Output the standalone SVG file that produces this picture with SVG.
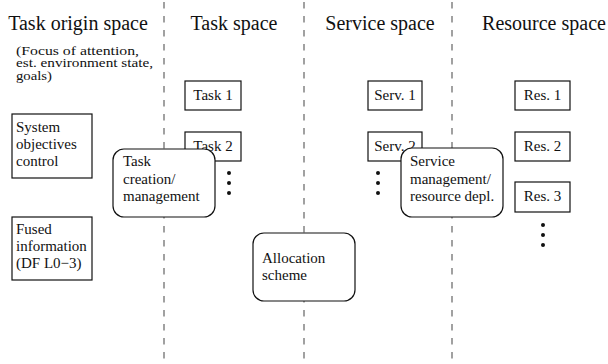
<svg xmlns="http://www.w3.org/2000/svg" width="608" height="364" viewBox="0 0 608 364" font-family="'Liberation Serif', 'Times New Roman', Times, serif">
  <style>
    text { font-family: 'Liberation Serif', 'Times New Roman', Times, serif; fill: #111; }
    .hdr { font-size: 20px; text-anchor: middle; }
    .sub { font-size: 12px; }
    .lbl { font-size: 15px; }
    .mid { text-anchor: middle; }
    .box { fill: #fff; stroke: #111; stroke-width: 1.2; }
    .sep { stroke: #555; stroke-width: 1.1; stroke-dasharray: 6.5 7.5; fill: none; }
    .dot { fill: #111; }
  </style>
  <rect width="608" height="364" fill="#fff"/>
  <g id="separators">
    <line class="sep" x1="164" y1="2" x2="164" y2="364"/>
    <line class="sep" x1="304" y1="2" x2="304" y2="364"/>
    <line class="sep" x1="452" y1="2" x2="452" y2="364"/>
  </g>
  <g id="headers">
    <text class="hdr" x="78" y="30">Task origin space</text>
    <text class="hdr" x="234" y="30">Task space</text>
    <text class="hdr" x="380" y="30">Service space</text>
    <text class="hdr" x="544" y="30">Resource space</text>
  </g>
  <g id="origin-note">
    <text class="sub" x="16" y="54.5" textLength="123" lengthAdjust="spacingAndGlyphs">(Focus of attention,</text>
    <text class="sub" x="16" y="67" textLength="137" lengthAdjust="spacingAndGlyphs">est. environment state,</text>
    <text class="sub" x="16" y="79.5" textLength="36" lengthAdjust="spacingAndGlyphs">goals)</text>
  </g>
  <g id="system-objectives">
    <rect class="box" x="12" y="114" width="80" height="64"/>
    <text class="lbl" x="16" y="132">System</text>
    <text class="lbl" x="16" y="149">objectives</text>
    <text class="lbl" x="16" y="166">control</text>
  </g>
  <g id="fused-information">
    <rect class="box" x="12" y="217" width="80" height="63"/>
    <text class="lbl" x="16" y="234">Fused</text>
    <text class="lbl" x="16" y="251">information</text>
    <text class="lbl" x="16" y="268">(DF L0−3)</text>
  </g>
  <g id="task1">
    <rect class="box" x="185" y="81" width="56" height="29"/>
    <text class="lbl mid" x="213" y="99.5">Task 1</text>
  </g>
  <g id="task2">
    <rect class="box" x="185" y="132" width="56" height="29"/>
    <text class="lbl mid" x="213" y="150.5">Task 2</text>
  </g>
  <g id="task-dots">
    <circle class="dot" cx="229" cy="173" r="2"/>
    <circle class="dot" cx="229" cy="183" r="2"/>
    <circle class="dot" cx="229" cy="193" r="2"/>
  </g>
  <g id="task-creation">
    <rect class="box" x="113" y="149" width="102" height="68" rx="11" ry="11"/>
    <text class="lbl" x="123" y="166">Task</text>
    <text class="lbl" x="123" y="183.5">creation/</text>
    <text class="lbl" x="123" y="201">management</text>
  </g>
  <g id="serv1">
    <rect class="box" x="368" y="81" width="54" height="29"/>
    <text class="lbl mid" x="395" y="99.5">Serv. 1</text>
  </g>
  <g id="serv2">
    <rect class="box" x="368" y="132" width="54" height="29"/>
    <text class="lbl mid" x="395" y="150.5">Serv. 2</text>
  </g>
  <g id="serv-dots">
    <circle class="dot" cx="378" cy="173" r="2"/>
    <circle class="dot" cx="378" cy="183" r="2"/>
    <circle class="dot" cx="378" cy="193" r="2"/>
  </g>
  <g id="service-management">
    <rect class="box" x="401" y="148" width="102" height="69" rx="11" ry="11"/>
    <text class="lbl" x="410" y="166">Service</text>
    <text class="lbl" x="410" y="183.5">management/</text>
    <text class="lbl" x="410" y="201">resource depl.</text>
  </g>
  <g id="res1">
    <rect class="box" x="515" y="81" width="55" height="29"/>
    <text class="lbl mid" x="542.5" y="99.5">Res. 1</text>
  </g>
  <g id="res2">
    <rect class="box" x="515" y="132" width="55" height="29"/>
    <text class="lbl mid" x="542.5" y="150.5">Res. 2</text>
  </g>
  <g id="res3">
    <rect class="box" x="515" y="182" width="55" height="30"/>
    <text class="lbl mid" x="542.5" y="201">Res. 3</text>
  </g>
  <g id="res-dots">
    <circle class="dot" cx="543" cy="225" r="2"/>
    <circle class="dot" cx="543" cy="235" r="2"/>
    <circle class="dot" cx="543" cy="245" r="2"/>
  </g>
  <g id="allocation-scheme">
    <rect class="box" x="253" y="233" width="102" height="68" rx="11" ry="11"/>
    <text class="lbl" x="262" y="263">Allocation</text>
    <text class="lbl" x="262" y="280">scheme</text>
  </g>
</svg>
